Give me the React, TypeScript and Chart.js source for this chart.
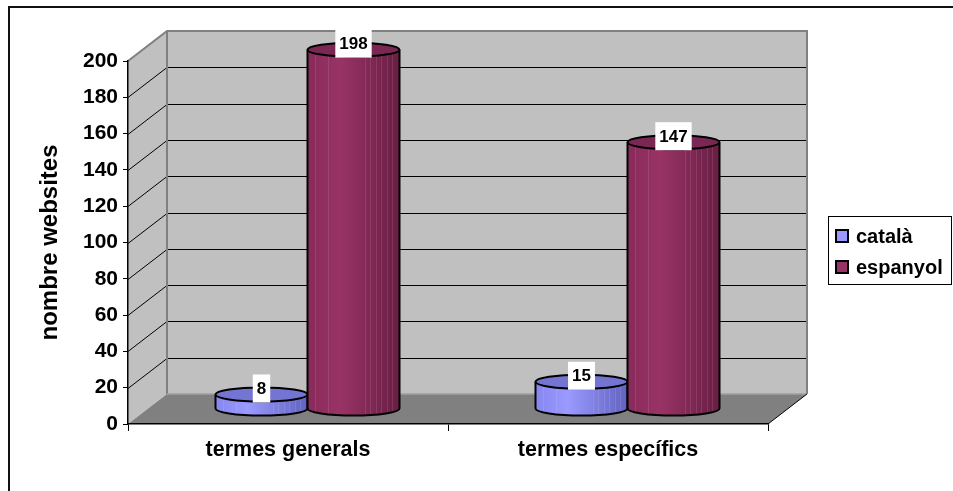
import React, { useEffect, useRef } from "react";
import { Chart, registerables } from "chart.js";

Chart.register(...registerables);

const categories = ["termes generals", "termes específics"];
const seriesNames = ["català", "espanyol"];
const catalaValues = [8, 15];
const espanyolValues = [198, 147];
const yMin = 0;
const yMax = 200;
const yStep = 20;
const yTitle = "nombre websites";

const FONT = "'Liberation Sans', Arial, sans-serif";
const DEPTH_X = 39;
const DEPTH_Y = -30;

const cylStyles = [
  { left: "#8686f0", mid: "#9a9aff", right: "#6262c0", top: "#7474d2", swatch: "#9999ff" },
  { left: "#882a5a", mid: "#993366", right: "#681e43", top: "#7a2853", swatch: "#993366" },
];

const scenePlugin = {
  id: "scene3d",
  beforeDraw(chart: any) {
    const ctx = chart.ctx;
    const { left, right, top, bottom } = chart.chartArea;
    const ys = chart.scales.y;
    ctx.save();
    ctx.fillStyle = "#ffffff";
    ctx.fillRect(0, 0, chart.width, chart.height);
    // outer frame
    ctx.strokeStyle = "#111";
    ctx.lineWidth = 2;
    ctx.beginPath();
    ctx.moveTo(9, chart.height);
    ctx.lineTo(9, 7);
    ctx.lineTo(chart.width, 7);
    ctx.stroke();

    const bl = left + DEPTH_X, br = right + DEPTH_X, bt = top + DEPTH_Y, bb = bottom + DEPTH_Y;
    // back wall
    ctx.fillStyle = "#c0c0c0";
    ctx.fillRect(bl, bt, br - bl, bb - bt);
    // side wall
    ctx.beginPath();
    ctx.moveTo(left, top);
    ctx.lineTo(bl, bt);
    ctx.lineTo(bl, bb);
    ctx.lineTo(left, bottom);
    ctx.closePath();
    ctx.fill();
    // floor
    ctx.fillStyle = "#808080";
    ctx.beginPath();
    ctx.moveTo(left, bottom);
    ctx.lineTo(right, bottom);
    ctx.lineTo(br, bb);
    ctx.lineTo(bl, bb);
    ctx.closePath();
    ctx.fill();
    // grid lines
    ctx.strokeStyle = "#000";
    ctx.lineWidth = 1;
    for (let v = yMin + yStep; v < yMax; v += yStep) {
      const y = Math.round(ys.getPixelForValue(v)) + 0.5;
      ctx.beginPath();
      ctx.moveTo(left, y);
      ctx.lineTo(bl, y + DEPTH_Y);
      ctx.lineTo(br, y + DEPTH_Y);
      ctx.stroke();
    }
    // wall edges
    ctx.strokeStyle = "#808080";
    ctx.lineWidth = 2;
    ctx.beginPath();
    ctx.moveTo(left, top);
    ctx.lineTo(bl, bt);
    ctx.lineTo(br, bt);
    ctx.lineTo(br, bb);
    ctx.moveTo(bl, bt);
    ctx.lineTo(bl, bb);
    ctx.stroke();
    ctx.strokeStyle = "#a0a0a0";
    ctx.lineWidth = 1.5;
    ctx.beginPath();
    ctx.moveTo(bl, bb);
    ctx.lineTo(br, bb);
    ctx.stroke();
    ctx.strokeStyle = "#000";
    ctx.lineWidth = 1;
    ctx.beginPath();
    ctx.moveTo(right, bottom);
    ctx.lineTo(br, bb);
    ctx.stroke();
    ctx.restore();
  },
  beforeDatasetsDraw(chart: any) {
    const ctx = chart.ctx;
    const ox = DEPTH_X / 2, oy = DEPTH_Y / 2;
    const ry = 7;
    ctx.save();
    const n = chart.data.labels.length;
    for (let i = 0; i < n; i++) {
      chart.data.datasets.forEach((ds: any, di: number) => {
        const el = chart.getDatasetMeta(di).data[i];
        const st = cylStyles[di];
        const cx = el.x + ox;
        const rx = el.width / 2;
        const x0 = cx - rx, x1 = cx + rx;
        const yt = el.y + oy, yb = el.base + oy;
        const g = ctx.createLinearGradient(x0, 0, x1, 0);
        g.addColorStop(0, st.left);
        g.addColorStop(0.35, st.mid);
        g.addColorStop(1, st.right);
        ctx.beginPath();
        ctx.moveTo(x0, yt);
        ctx.lineTo(x0, yb);
        ctx.ellipse(cx, yb, rx, ry, 0, Math.PI, 0, true);
        ctx.lineTo(x1, yt);
        ctx.ellipse(cx, yt, rx, ry, 0, 0, Math.PI, false);
        ctx.closePath();
        ctx.fillStyle = g;
        ctx.fill();
        // subtle stripes
        ctx.save();
        ctx.clip();
        ctx.strokeStyle = "rgba(255,255,255,0.10)";
        ctx.lineWidth = 1;
        [0.08, 0.22, 0.62, 0.68, 0.74, 0.8, 0.86, 0.92].forEach((f) => {
          const sx = Math.round(x0 + f * 2 * rx) + 0.5;
          ctx.beginPath();
          ctx.moveTo(sx, yt - ry);
          ctx.lineTo(sx, yb + ry);
          ctx.stroke();
        });
        ctx.restore();
        ctx.beginPath();
        ctx.moveTo(x0, yt);
        ctx.lineTo(x0, yb);
        ctx.ellipse(cx, yb, rx, ry, 0, Math.PI, 0, true);
        ctx.lineTo(x1, yt);
        ctx.strokeStyle = "#000";
        ctx.lineWidth = 2;
        ctx.stroke();
        ctx.beginPath();
        ctx.ellipse(cx, yt, rx, ry, 0, 0, Math.PI * 2);
        ctx.fillStyle = st.top;
        ctx.fill();
        ctx.stroke();
      });
    }
    // data labels
    ctx.font = `bold 17px ${FONT}`;
    ctx.textAlign = "center";
    ctx.textBaseline = "middle";
    for (let i = 0; i < n; i++) {
      chart.data.datasets.forEach((ds: any, di: number) => {
        const el = chart.getDatasetMeta(di).data[i];
        const cx = el.x + ox;
        const ty = el.y + oy - 6;
        const txt = String(ds.data[i]);
        const w = ctx.measureText(txt).width + 8;
        ctx.fillStyle = "#fff";
        ctx.fillRect(cx - w / 2, ty - 14, w, 28);
        ctx.fillStyle = "#000";
        ctx.fillText(txt, cx, ty + 1);
      });
    }
    ctx.restore();
    return false;
  },
  afterDraw(chart: any) {
    const ctx = chart.ctx;
    ctx.save();
    const lx = 828, ly = 216, lw = 124, lh = 69;
    ctx.fillStyle = "#fff";
    ctx.fillRect(lx, ly, lw, lh);
    ctx.strokeStyle = "#000";
    ctx.lineWidth = 1;
    ctx.strokeRect(lx + 0.5, ly + 0.5, lw - 1, lh - 1);
    ctx.font = `bold 20px ${FONT}`;
    ctx.textAlign = "left";
    ctx.textBaseline = "middle";
    chart.data.datasets.forEach((ds: any, di: number) => {
      const cy = ly + 20 + di * 31;
      ctx.fillStyle = cylStyles[di].swatch;
      ctx.fillRect(836, cy - 6, 12, 12);
      ctx.lineWidth = 2;
      ctx.strokeRect(836, cy - 6, 12, 12);
      ctx.fillStyle = "#000";
      ctx.fillText(ds.label, 856, cy + 1);
    });
    ctx.restore();
  },
};

export default function App() {
  const ref = useRef<HTMLCanvasElement>(null);
  useEffect(() => {
    document.body.style.margin = "0";
    const chart = new Chart(ref.current!, {
      type: "bar",
      data: {
        labels: categories,
        datasets: [
          { label: seriesNames[0], data: catalaValues, backgroundColor: cylStyles[0].swatch },
          { label: seriesNames[1], data: espanyolValues, backgroundColor: cylStyles[1].swatch },
        ],
      },
      options: {
        animation: false,
        responsive: false,
        events: [],
        layout: { padding: { left: 0, top: 61, right: 185, bottom: 0 } },
        datasets: { bar: { categoryPercentage: 0.575, barPercentage: 1 } },
        plugins: { legend: { display: false }, tooltip: { enabled: false } },
        scales: {
          x: {
            grid: { display: true, drawOnChartArea: false, drawTicks: true, tickLength: 7, color: "#000", offset: true },
            border: { display: true, color: "#000", width: 1.5 },
            ticks: { color: "#000", font: { family: FONT, size: 21.5, weight: "bold" }, padding: 6 },
            afterFit: (s: any) => { s.height = 67; },
          },
          y: {
            min: yMin,
            max: yMax,
            ticks: { stepSize: yStep, color: "#000", font: { family: FONT, size: 21, weight: "bold" }, padding: 5 },
            grid: { display: true, drawOnChartArea: false, drawTicks: true, tickLength: 5, color: "#000" },
            border: { display: true, color: "#000", width: 1.5 },
            title: { display: true, text: yTitle, color: "#000", font: { family: FONT, size: 24, weight: "bold" }, padding: { top: 36, bottom: 0 } },
            afterFit: (s: any) => { s.width = 128; },
          },
        },
      },
      plugins: [scenePlugin],
    });
    return () => chart.destroy();
  }, []);
  return (
    <div style={{ width: 953, height: 491 }}>
      <canvas ref={ref} width={953} height={491} style={{ display: "block" }} />
    </div>
  );
}
